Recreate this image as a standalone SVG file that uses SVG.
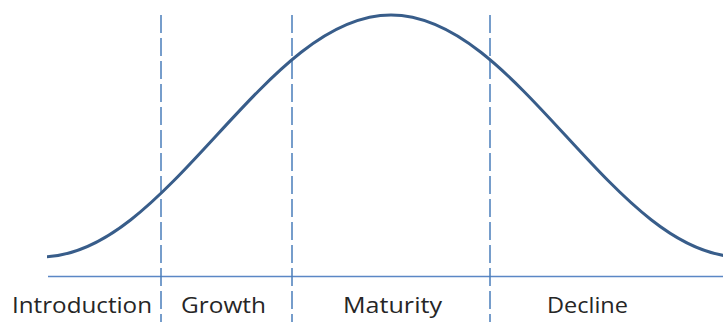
<svg xmlns="http://www.w3.org/2000/svg" width="723" height="322" viewBox="0 0 723 322">
<style>
.div{stroke:#4a7ebb;stroke-width:1.5;stroke-dasharray:18 5;fill:none}
.axis{stroke:#5b87c5;stroke-width:1.5;fill:none}
.curve{stroke:#385d8a;stroke-width:3;fill:none}
.lbl{font-family:"Open Sans","Liberation Sans",sans-serif;font-size:21px;fill:#262626}
</style>
<defs>
<clipPath id="c"><rect x="47" y="0" width="676" height="322"/></clipPath>
</defs>
<rect width="723" height="322" fill="#fff"/>
<g id="connectors">
<line class="axis" x1="48" y1="276.5" x2="723" y2="276.5"/>
<line class="div" x1="161" y1="15" x2="161" y2="322"/>
<line class="div" x1="292" y1="15" x2="292" y2="322"/>
<line class="div" x1="490" y1="15" x2="490" y2="322"/>
</g>
<g id="curve" clip-path="url(#c)">
<path class="curve" d="M41,257 C104.33,257 158.93,197.99 216,136 C273.07,74.01 327.67,15 391,15 C454.33,15 508.93,74.01 566,136 C623.07,197.99 677.67,257 741,257"/>
</g>
<g id="introduction"><text class="lbl" x="12" y="313" textLength="140" lengthAdjust="spacingAndGlyphs">Introduction</text></g>
<g id="growth"><text class="lbl" x="181" y="313" textLength="85" lengthAdjust="spacingAndGlyphs">Growth</text></g>
<g id="maturity"><text class="lbl" x="343" y="313" textLength="99" lengthAdjust="spacingAndGlyphs">Maturity</text></g>
<g id="decline"><text class="lbl" x="547" y="313" textLength="81" lengthAdjust="spacingAndGlyphs">Decline</text></g>
</svg>
